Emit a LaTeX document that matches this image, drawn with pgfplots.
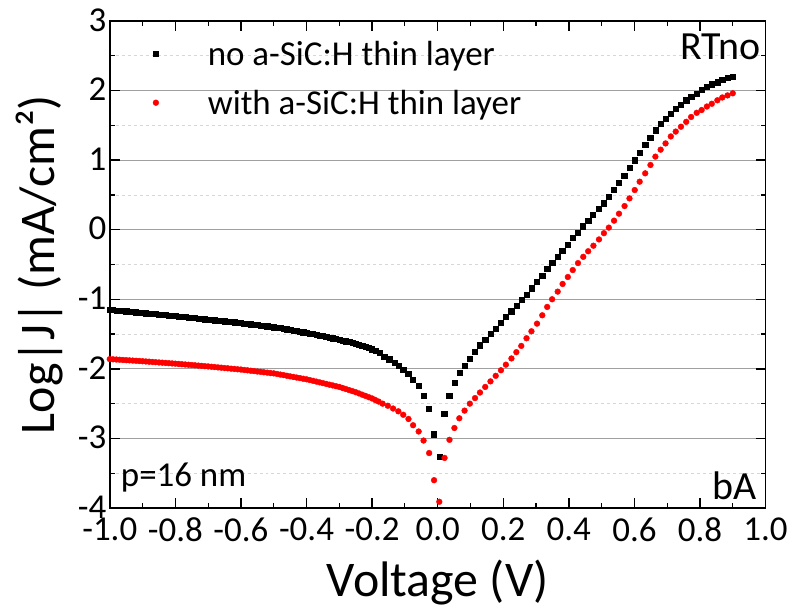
\documentclass[border=0pt]{standalone}
\usepackage{fontspec}
\setmainfont{Carlito}
\usepackage{pgfplots}
\pgfplotsset{compat=1.18}
\definecolor{gridmaj}{RGB}{160,160,160}
\definecolor{gridmin}{RGB}{215,215,215}

\pgfplotsset{
  markleg/.style={legend image code/.code={
    \path[draw=none, fill=none] (0pt,-3pt) rectangle (74pt,3pt);
    \draw[##1, only marks] plot coordinates {(24pt,0pt)};}},
}

\begin{document}
\begin{tikzpicture}
\begin{axis}[
  width=657pt, height=488pt, scale only axis,
  xmin=-1, xmax=1, ymin=-4, ymax=3,
  xtick={-1,-0.8,-0.6,-0.4,-0.2,0,0.2,0.4,0.6,0.8,1},
  xticklabels={-1.0,-0.8,-0.6,-0.4,-0.2,0.0,0.2,0.4,0.6,0.8,1.0},
  minor x tick num=1,
  ytick={-4,-3,-2,-1,0,1,2,3},
  yticklabels={-4,-3,-2,-1,0,1,2,3},
  minor y tick num=1,
  axis line style={line width=1.5pt},
  major tick style={line width=1.5pt, black},
  minor tick style={line width=1.2pt, black},
  major tick length=10pt, minor tick length=5pt,
  ymajorgrids, yminorgrids,
  major grid style={gridmaj, line width=1pt},
  minor grid style={gridmin, dashed, line width=0.8pt},
  tick label style={font=\fontsize{35}{42}\selectfont},
  xticklabel style={yshift=-6pt},
  yticklabel style={yshift=1pt},
  xlabel={Voltage (V)},
  ylabel={Log|J| (mA/cm²)},
  label style={font=\fontsize{50}{60}\selectfont},
  xlabel style={yshift=-11pt},
  ylabel style={yshift=8pt},
  legend style={draw=none, fill=none, at={(0,1)}, anchor=north west,
    xshift=22pt, yshift=-18pt, inner sep=0pt, row sep=19pt,
    font=\fontsize{35}{42}\selectfont, nodes={inner sep=2pt}},
  legend cell align=left,
]
% no a-SiC:H layer
\addplot[only marks, mark=square*, mark size=2.6pt, black, markleg] coordinates {
(-1.00,-1.150) (-0.99,-1.154) (-0.98,-1.159) (-0.97,-1.163) (-0.96,-1.168)
(-0.95,-1.172) (-0.94,-1.177) (-0.93,-1.181) (-0.92,-1.186) (-0.91,-1.190)
(-0.90,-1.195) (-0.89,-1.199) (-0.88,-1.204) (-0.87,-1.208) (-0.86,-1.213)
(-0.85,-1.217) (-0.84,-1.222) (-0.83,-1.226) (-0.82,-1.231) (-0.81,-1.235)
(-0.80,-1.240) (-0.79,-1.245) (-0.78,-1.250) (-0.77,-1.255) (-0.76,-1.260)
(-0.75,-1.265) (-0.74,-1.270) (-0.73,-1.275) (-0.72,-1.280) (-0.71,-1.285)
(-0.70,-1.290) (-0.69,-1.295) (-0.68,-1.300) (-0.67,-1.305) (-0.66,-1.310)
(-0.65,-1.315) (-0.64,-1.320) (-0.63,-1.325) (-0.62,-1.330) (-0.61,-1.335)
(-0.60,-1.340) (-0.59,-1.346) (-0.58,-1.352) (-0.57,-1.358) (-0.56,-1.364)
(-0.55,-1.370) (-0.54,-1.376) (-0.53,-1.382) (-0.52,-1.388) (-0.51,-1.394)
(-0.50,-1.400) (-0.49,-1.407) (-0.48,-1.414) (-0.47,-1.422) (-0.46,-1.430)
(-0.45,-1.438) (-0.44,-1.446) (-0.43,-1.455) (-0.42,-1.464) (-0.41,-1.473)
(-0.40,-1.482) (-0.39,-1.491) (-0.38,-1.500) (-0.37,-1.509) (-0.36,-1.518)
(-0.35,-1.528) (-0.34,-1.538) (-0.33,-1.548) (-0.32,-1.558) (-0.31,-1.569)
(-0.30,-1.580) (-0.29,-1.591) (-0.28,-1.603) (-0.27,-1.615) (-0.26,-1.627)
(-0.25,-1.640) (-0.24,-1.654) (-0.23,-1.668) (-0.22,-1.683) (-0.21,-1.700)
(-0.20,-1.717) (-0.19,-1.735)
(-0.178,-1.77) (-0.163,-1.82) (-0.148,-1.86) (-0.132,-1.91) (-0.119,-1.95)
(-0.105,-2.01) (-0.090,-2.07) (-0.075,-2.15) (-0.058,-2.24) (-0.043,-2.38)
(-0.028,-2.57) (-0.011,-2.94) (0.005,-3.26) (0.020,-2.64) (0.035,-2.38)
(0.051,-2.20) (0.066,-2.06) (0.082,-1.95) (0.098,-1.85) (0.114,-1.75)
(0.129,-1.66) (0.145,-1.58) (0.161,-1.50) (0.176,-1.42) (0.192,-1.34)
(0.208,-1.25) (0.224,-1.17) (0.240,-1.09) (0.256,-1.01) (0.271,-0.93)
(0.287,-0.84) (0.303,-0.75) (0.319,-0.66) (0.334,-0.56) (0.349,-0.48)
(0.365,-0.39) (0.380,-0.30) (0.396,-0.21) (0.411,-0.12) (0.428,-0.04)
(0.443,0.05) (0.459,0.13) (0.474,0.22) (0.490,0.30) (0.506,0.38)
(0.522,0.47) (0.537,0.58) (0.552,0.67) (0.569,0.78) (0.585,0.89)
(0.601,1.00) (0.616,1.11) (0.633,1.22) (0.648,1.32) (0.664,1.43)
(0.679,1.52) (0.695,1.60) (0.711,1.67) (0.727,1.74) (0.742,1.80)
(0.758,1.86) (0.773,1.91) (0.790,1.96) (0.805,2.01) (0.821,2.05)
(0.836,2.09) (0.853,2.12) (0.868,2.15) (0.884,2.19) (0.900,2.20)
};
\addlegendentry{no a-SiC:H thin layer}
% with a-SiC:H layer
\addplot[only marks, mark=*, mark size=2.9pt, red, markleg] coordinates {
(-1.00,-1.860) (-0.99,-1.863) (-0.98,-1.866) (-0.97,-1.869) (-0.96,-1.872)
(-0.95,-1.875) (-0.94,-1.878) (-0.93,-1.881) (-0.92,-1.884) (-0.91,-1.887)
(-0.90,-1.890) (-0.89,-1.894) (-0.88,-1.897) (-0.87,-1.901) (-0.86,-1.904)
(-0.85,-1.908) (-0.84,-1.911) (-0.83,-1.915) (-0.82,-1.918) (-0.81,-1.922)
(-0.80,-1.925) (-0.79,-1.929) (-0.78,-1.933) (-0.77,-1.937) (-0.76,-1.941)
(-0.75,-1.945) (-0.74,-1.949) (-0.73,-1.953) (-0.72,-1.957) (-0.71,-1.961)
(-0.70,-1.965) (-0.69,-1.970) (-0.68,-1.974) (-0.67,-1.979) (-0.66,-1.983)
(-0.65,-1.988) (-0.64,-1.992) (-0.63,-1.997) (-0.62,-2.001) (-0.61,-2.006)
(-0.60,-2.010) (-0.59,-2.016) (-0.58,-2.021) (-0.57,-2.027) (-0.56,-2.032)
(-0.55,-2.038) (-0.54,-2.043) (-0.53,-2.049) (-0.52,-2.054) (-0.51,-2.060)
(-0.50,-2.065) (-0.49,-2.073) (-0.48,-2.082) (-0.47,-2.090) (-0.46,-2.099)
(-0.45,-2.108) (-0.44,-2.116) (-0.43,-2.125) (-0.42,-2.133) (-0.41,-2.142)
(-0.40,-2.150) (-0.39,-2.161) (-0.38,-2.172) (-0.37,-2.183) (-0.36,-2.194)
(-0.35,-2.205) (-0.34,-2.216) (-0.33,-2.227) (-0.32,-2.238) (-0.31,-2.249)
(-0.30,-2.260) (-0.29,-2.275) (-0.28,-2.290) (-0.27,-2.305) (-0.26,-2.320)
(-0.25,-2.335) (-0.24,-2.353) (-0.23,-2.371) (-0.22,-2.389) (-0.21,-2.407)
(-0.20,-2.425) (-0.19,-2.448) (-0.18,-2.470)
(-0.168,-2.50) (-0.152,-2.53) (-0.136,-2.57) (-0.120,-2.61) (-0.105,-2.66)
(-0.089,-2.72) (-0.075,-2.81) (-0.058,-2.90) (-0.043,-3.03) (-0.026,-3.21)
(-0.011,-3.60) (0.005,-3.91) (0.021,-3.28) (0.036,-3.02) (0.051,-2.85)
(0.066,-2.71) (0.082,-2.60) (0.098,-2.50) (0.114,-2.42) (0.129,-2.34)
(0.145,-2.26) (0.161,-2.18) (0.177,-2.10) (0.193,-2.02) (0.208,-1.94)
(0.225,-1.85) (0.240,-1.76) (0.255,-1.67) (0.271,-1.56) (0.286,-1.46)
(0.303,-1.35) (0.319,-1.23) (0.334,-1.11) (0.349,-1.00) (0.366,-0.89)
(0.381,-0.78) (0.397,-0.68) (0.412,-0.58) (0.428,-0.48) (0.444,-0.39)
(0.459,-0.31) (0.475,-0.23) (0.492,-0.14) (0.507,-0.05) (0.522,0.03)
(0.538,0.13) (0.553,0.23) (0.570,0.34) (0.585,0.45) (0.601,0.57)
(0.616,0.69) (0.633,0.81) (0.649,0.93) (0.664,1.05) (0.680,1.15)
(0.695,1.24) (0.711,1.34) (0.726,1.41) (0.742,1.48) (0.758,1.55)
(0.773,1.62) (0.790,1.68) (0.805,1.72) (0.821,1.77) (0.836,1.81)
(0.853,1.86) (0.868,1.90) (0.884,1.93) (0.900,1.96)
};
\addlegendentry{with a-SiC:H thin layer}

\node[anchor=base east, inner sep=0pt, font=\fontsize{40}{48}\selectfont]
  at (rel axis cs:0.9924,0.920) {RTno};
\node[anchor=base east, inner sep=0pt, font=\fontsize{40}{48}\selectfont]
  at (rel axis cs:0.9863,0.018) {bA};
\node[anchor=base west, inner sep=0pt, font=\fontsize{35}{42}\selectfont]
  at (rel axis cs:0.0167,0.045) {p=16 nm};
\end{axis}
% page margins as in the reference
\path (current axis.south west) ++(-110pt,-98pt);
\path (current axis.north east) ++(24pt,21pt);
\end{tikzpicture}
\end{document}
